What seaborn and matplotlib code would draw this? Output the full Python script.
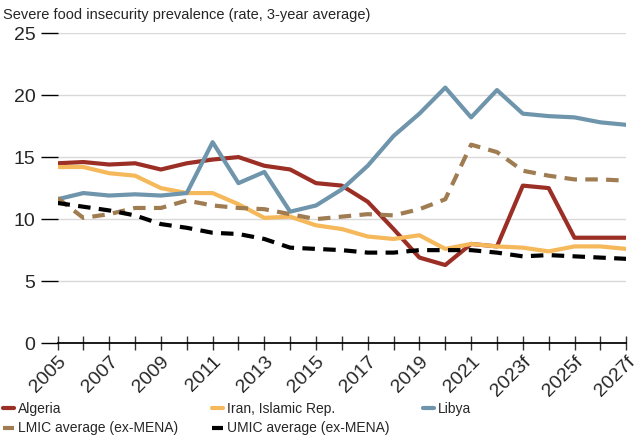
import matplotlib
matplotlib.use("Agg")
import matplotlib.pyplot as plt
import seaborn as sns
import pandas as pd

years = [str(y) for y in range(2005, 2023)] + ["2023f", "2024f", "2025f", "2026f", "2027f"]
tick_labels = [y if i % 2 == 0 else "" for i, y in enumerate(years)]
algeria = [14.5, 14.6, 14.4, 14.5, 14.0, 14.5, 14.8, 15.0, 14.3, 14.0, 12.9, 12.7, 11.4, 9.2, 6.9, 6.3, 8.0, 7.8, 12.7, 12.5, 8.5, 8.5, 8.5]
iran = [14.2, 14.2, 13.7, 13.5, 12.5, 12.1, 12.1, 11.2, 10.1, 10.2, 9.5, 9.2, 8.6, 8.4, 8.7, 7.6, 8.0, 7.8, 7.7, 7.4, 7.8, 7.8, 7.6]
libya = [11.6, 12.1, 11.9, 12.0, 11.9, 12.1, 16.2, 12.9, 13.8, 10.6, 11.1, 12.4, 14.3, 16.7, 18.5, 20.6, 18.2, 20.4, 18.5, 18.3, 18.2, 17.8, 17.6]
lmic = [11.7, 10.1, 10.4, 10.9, 10.9, 11.5, 11.1, 10.9, 10.8, 10.4, 10.0, 10.2, 10.4, 10.3, 10.8, 11.6, 16.0, 15.4, 13.9, 13.5, 13.2, 13.2, 13.1]
umic = [11.3, 11.0, 10.7, 10.3, 9.6, 9.3, 8.9, 8.8, 8.4, 7.7, 7.6, 7.5, 7.3, 7.3, 7.5, 7.5, 7.5, 7.3, 7.0, 7.1, 7.0, 6.9, 6.8]

series = [("Algeria", algeria, "#9b2f26", "-"), ("Iran, Islamic Rep.", iran, "#f5b85a", "-"),
          ("Libya", libya, "#6e95ac", "-"), ("LMIC average (ex-MENA)", lmic, "#a07c52", (0, (3, 2))),
          ("UMIC average (ex-MENA)", umic, "#000000", (0, (3, 2)))]

sns.set_theme(style="white")
plt.rcParams['font.family'] = ['Liberation Sans', 'DejaVu Sans']
fig, ax = plt.subplots(figsize=(6.39, 4.40), dpi=100)
x = list(range(len(years)))
for name, vals, col, ls in series:
    df = pd.DataFrame({"x": x, "y": vals})
    sns.lineplot(data=df, x="x", y="y", ax=ax, color=col, linestyle=ls, linewidth=3, label=name)

ax.set_ylim(0, 25)
ax.set_xlim(0, len(years) - 1)
ax.set_yticks([0, 5, 10, 15, 20, 25])
ax.yaxis.grid(True, color="#d9d9d9", linewidth=1)
ax.set_xticks(x)
ax.set_xticklabels(tick_labels, rotation=45, ha="right", rotation_mode="anchor", fontsize=14)
ax.tick_params(axis="y", labelsize=14, length=12, width=1, color="black", pad=4, left=True)
ax.tick_params(axis="x", direction="inout", length=10, width=1, color="#333333", bottom=True, pad=2)
for s in ["top", "right", "left"]:
    ax.spines[s].set_visible(False)
ax.spines["bottom"].set_color("black")
ax.set_xlabel("")
ax.set_ylabel("")
fig.text(0.005, 0.965, "Severe food insecurity prevalence (rate, 3-year average)", fontsize=10.5, va="center")
h, l = ax.get_legend_handles_labels()
order = [0, 3, 1, 4, 2]
ax.legend([h[i] for i in order], [l[i] for i in order], loc="upper left",
          bbox_to_anchor=(0.0, 0.093), bbox_transform=fig.transFigure, ncol=3, frameon=False, fontsize=10,
          handlelength=0.8, handletextpad=0.3, columnspacing=2.4, labelspacing=0.4, borderaxespad=0, borderpad=0.2)
fig.subplots_adjust(left=0.09, right=0.98, top=0.925, bottom=0.22)
fig.savefig("out.png", dpi=100)
